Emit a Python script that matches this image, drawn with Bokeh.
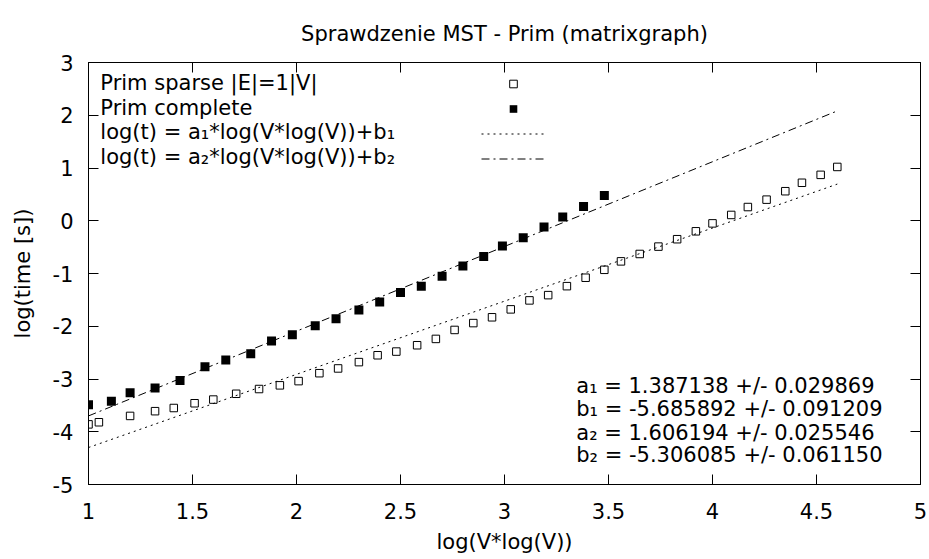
from bokeh.plotting import figure
from bokeh.models import Range1d, LinearAxis, FixedTicker, Label, Legend, LegendItem
from bokeh.embed import file_html
from bokeh.resources import INLINE

# ---------------- data ----------------
title_text = "Sprawdzenie MST - Prim (matrixgraph)"
x_label = "log(V*log(V))"
y_label = "log(time [s])"

sparse_x = [1.00, 1.05, 1.20, 1.32, 1.41, 1.51, 1.60, 1.71, 1.82, 1.92,
            2.01, 2.11, 2.20, 2.30, 2.39, 2.48, 2.58, 2.67, 2.76, 2.85,
            2.94, 3.03, 3.12, 3.21, 3.30, 3.39, 3.48, 3.56, 3.65, 3.74,
            3.83, 3.92, 4.00, 4.09, 4.17, 4.26, 4.35, 4.43, 4.52, 4.60]
sparse_y = [-3.86, -3.82, -3.70, -3.61, -3.55, -3.46, -3.39, -3.28, -3.19, -3.12,
            -3.04, -2.89, -2.80, -2.68, -2.55, -2.48, -2.36, -2.24, -2.07, -1.94,
            -1.83, -1.68, -1.51, -1.41, -1.24, -1.08, -0.93, -0.77, -0.63, -0.49,
            -0.35, -0.20, -0.05, 0.11, 0.26, 0.40, 0.56, 0.72, 0.87, 1.02]

complete_x = [1.00, 1.11, 1.20, 1.32, 1.44, 1.56, 1.66, 1.78, 1.88, 1.98,
              2.09, 2.19, 2.30, 2.40, 2.50, 2.60, 2.70, 2.80, 2.90, 2.99,
              3.09, 3.19, 3.28, 3.38, 3.48]
complete_y = [-3.49, -3.42, -3.26, -3.17, -3.03, -2.77, -2.64, -2.52, -2.28, -2.16,
              -1.99, -1.86, -1.69, -1.54, -1.36, -1.24, -1.05, -0.86, -0.68, -0.48,
              -0.32, -0.12, 0.07, 0.27, 0.48]

# fit parameters (as printed on the chart)
a1, a1_err = 1.387138, 0.029869
b1, b1_err = -5.685892, 0.091209
a2, a2_err = 1.606194, 0.025546
b2, b2_err = -5.306085, 0.061150

legend_labels = ["Prim sparse |E|=1|V|",
                 "Prim complete",
                 "log(t) = a\u2081*log(V*log(V))+b\u2081",
                 "log(t) = a\u2082*log(V*log(V))+b\u2082"]
fit_labels = ["a\u2081 = %.6f +/- %.6f" % (a1, a1_err),
              "b\u2081 = %.6f +/- %.6f" % (b1, b1_err),
              "a\u2082 = %.6f +/- %.6f" % (a2, a2_err),
              "b\u2082 = %.6f +/- %.6f" % (b2, b2_err)]

x_ticks = [1, 1.5, 2, 2.5, 3, 3.5, 4, 4.5, 5]
x_tick_labels = ["1", "1.5", "2", "2.5", "3", "3.5", "4", "4.5", "5"]
y_ticks = [-5, -4, -3, -2, -1, 0, 1, 2, 3]
y_tick_labels = ["-5", "-4", "-3", "-2", "-1", "0", "1", "2", "3"]

# fitted lines over the measured range
fit_x = [min(sparse_x), max(sparse_x)]
fit1_y = [a1 * v + b1 for v in fit_x]
fit2_y = [a2 * v + b2 for v in fit_x]

# ---------------- figure ----------------
FONT = "DejaVu Sans"
FS = "21px"

p = figure(width=929, height=559, output_backend="svg", toolbar_location=None,
           x_range=Range1d(x_ticks[0], x_ticks[-1]), y_range=Range1d(y_ticks[0], y_ticks[-1]),
           min_border_left=88, min_border_right=9, min_border_top=62, min_border_bottom=75)
p.background_fill_color = "white"
p.border_fill_color = "white"
p.grid.visible = False
p.outline_line_color = "black"
p.outline_line_width = 1

p.title.text = title_text
p.title.align = "center"
p.title.text_font = FONT
p.title.text_font_size = FS
p.title.text_font_style = "normal"
p.title.text_color = "black"
p.title.standoff = 34

def style_axis(ax, labels, ticks, show_labels=True):
    ax.ticker = FixedTicker(ticks=ticks)
    ax.major_tick_in = 10
    ax.major_tick_out = 0
    ax.minor_tick_in = 0
    ax.minor_tick_out = 0
    ax.major_tick_line_color = "black"
    ax.axis_line_color = "black"
    ax.major_label_text_font = FONT
    if show_labels:
        ax.major_label_overrides = {t: l for t, l in zip(ticks, labels)}
        ax.major_label_text_font_size = FS
        ax.major_label_text_color = "black"
    else:
        ax.major_label_text_font_size = "1px"
        ax.major_label_text_color = None
        ax.major_label_standoff = 0
    ax.axis_label_text_font = FONT
    ax.axis_label_text_font_size = FS
    ax.axis_label_text_font_style = "normal"
    ax.axis_label_text_color = "black"

xa = p.xaxis[0]
ya = p.yaxis[0]
style_axis(xa, x_tick_labels, x_ticks)
style_axis(ya, y_tick_labels, y_ticks)
xa.axis_label = x_label
ya.axis_label = y_label
xa.major_label_standoff = 18
xa.axis_label_standoff = 8
ya.major_label_standoff = 15
ya.axis_label_standoff = 15

top_ax = LinearAxis()
style_axis(top_ax, x_tick_labels, x_ticks, show_labels=False)
p.add_layout(top_ax, "above")
right_ax = LinearAxis()
style_axis(right_ax, y_tick_labels, y_ticks, show_labels=False)
p.add_layout(right_ax, "right")

# ---------------- glyphs ----------------
r_fit1 = p.line(fit_x, fit1_y, line_color="black", line_width=1, line_dash="2 4")
r_fit2 = p.line(fit_x, fit2_y, line_color="black", line_width=1, line_dash="8 4 2 4")
r_sparse = p.scatter(sparse_x, sparse_y, marker="square", size=7.5,
                     fill_color=None, line_color="black", line_width=1)
r_complete = p.scatter(complete_x, complete_y, marker="square", size=9,
                       fill_color="black", line_color=None)

# ---------------- key (gnuplot style: text left, sample right) ----------------
legend = Legend(items=[LegendItem(label=" ", renderers=[r]) for r in
                       [r_sparse, r_complete, r_fit1, r_fit2]],
                location=(393, 316), orientation="vertical",
                glyph_width=64, glyph_height=19, label_height=19, label_width=1,
                spacing=6, padding=0, margin=0, label_standoff=0,
                label_text_font_size="8px", label_text_color=None,
                border_line_color=None, background_fill_alpha=0)
p.add_layout(legend, "center")

legend_text_y = [2.611, 2.137, 1.673, 1.208]
for txt, yy in zip(legend_labels, legend_text_y):
    p.add_layout(Label(x=1.057, y=yy, text=txt, text_font=FONT, text_font_size=FS,
                       text_baseline="alphabetic", text_align="left", text_color="black"))

fit_text_y = [-3.133, -3.578, -4.024, -4.450]
for txt, yy in zip(fit_labels, fit_text_y):
    p.add_layout(Label(x=3.345, y=yy, text=txt, text_font=FONT, text_font_size=FS,
                       text_baseline="alphabetic", text_align="left", text_color="black"))

open("out.html", "w").write(file_html(p, INLINE))
